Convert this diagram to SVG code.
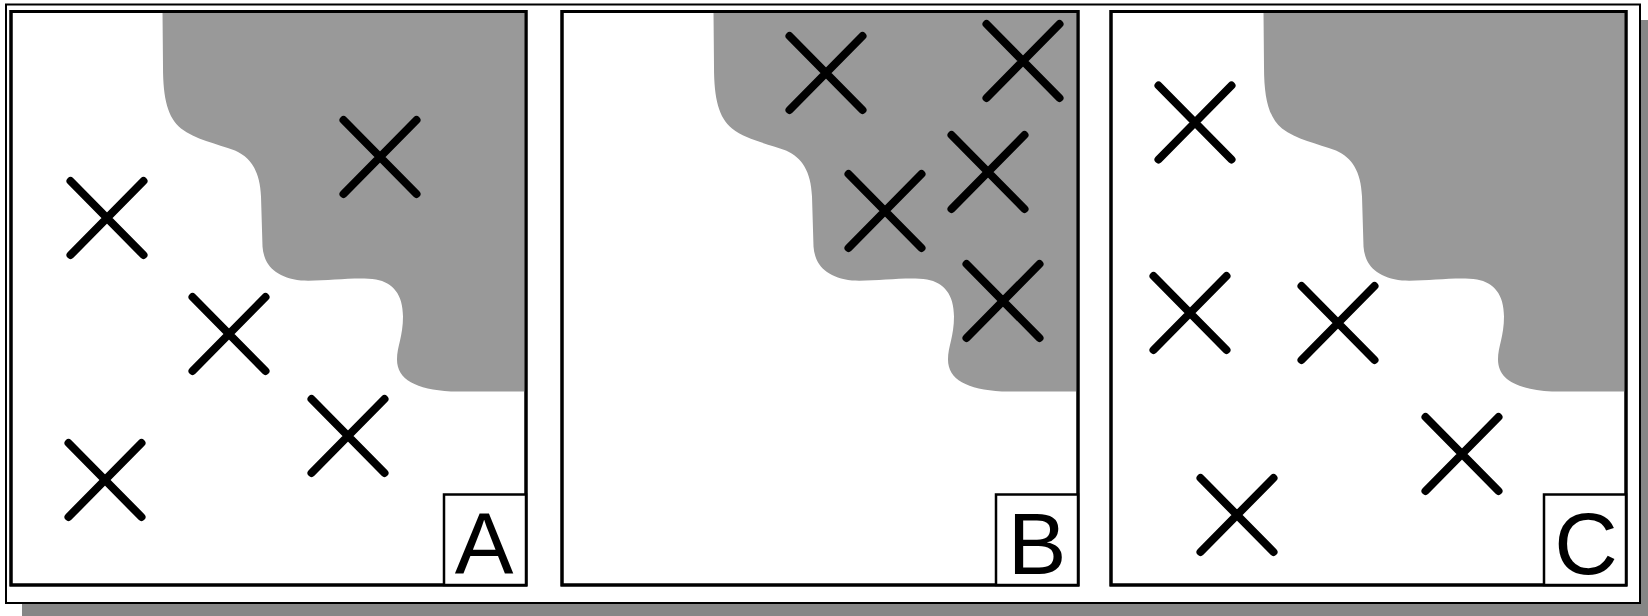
<svg xmlns="http://www.w3.org/2000/svg" xmlns:xlink="http://www.w3.org/1999/xlink" width="1648" height="616" viewBox="0 0 1648 616">
<style>
.panel{fill:#ffffff;stroke:#000;stroke-width:3}
.frame{fill:none;stroke:#000;stroke-width:3}
.region{fill:#999999;stroke:none}
.lbox{fill:#ffffff;stroke:#000;stroke-width:2.5}
.lbl{font-family:"Liberation Sans",Arial,sans-serif;font-size:88px;fill:#000;text-anchor:middle}
.x{fill:none;stroke:#000;stroke-width:8;stroke-linecap:round}
</style>
<defs>
<path id="cross" class="x" d="M-36.5,-37 L36.5,37 M-36.5,37 L36.5,-37"/>
<path id="blob" class="region" d="M151.5,0 L152,55 C152,88 157,106 170,117 C184,128 205,132 224,139 C240,146 249,160 250,185 L251.5,235 C253,255 266,266 290,269 C315,270 345,265 365,268 C382,271 392,283 392,305 C392,325 386,335 386,348 C386,368 405,378 440,380 L514,380 L514,0 Z"/>
</defs>
<rect x="22" y="20" width="1626" height="596" fill="#868686"/>
<rect x="6" y="4.5" width="1634" height="598.5" fill="#ffffff" stroke="#000" stroke-width="2"/>
<g id="panelA">
<rect class="panel" x="11" y="11.5" width="515" height="573.5"/>
<use xlink:href="#blob" transform="translate(11,11.5)"/>
<rect class="frame" x="11" y="11.5" width="515" height="573.5"/>
<use xlink:href="#cross" x="380" y="157"/>
<use xlink:href="#cross" x="107" y="218"/>
<use xlink:href="#cross" x="229" y="334"/>
<use xlink:href="#cross" x="348" y="436"/>
<use xlink:href="#cross" x="105" y="480"/>
<rect class="lbox" x="444" y="494.5" width="82" height="90.5"/>
<text class="lbl" x="484" y="574">A</text>
</g>
<g id="panelB">
<rect class="panel" x="562" y="11.5" width="516" height="573.5"/>
<use xlink:href="#blob" transform="translate(562,11.5)"/>
<rect class="frame" x="562" y="11.5" width="516" height="573.5"/>
<use xlink:href="#cross" x="826" y="73"/>
<use xlink:href="#cross" x="1023" y="61"/>
<use xlink:href="#cross" x="885" y="211"/>
<use xlink:href="#cross" x="988" y="172"/>
<use xlink:href="#cross" x="1003" y="301"/>
<rect class="lbox" x="996" y="494.5" width="82" height="90.5"/>
<text class="lbl" x="1037" y="574">B</text>
</g>
<g id="panelC">
<rect class="panel" x="1111" y="11.5" width="515" height="573.5"/>
<use xlink:href="#blob" transform="translate(1112,11.5)"/>
<rect class="frame" x="1111" y="11.5" width="515" height="573.5"/>
<use xlink:href="#cross" x="1195" y="122.5"/>
<use xlink:href="#cross" x="1190" y="313"/>
<use xlink:href="#cross" x="1338" y="323"/>
<use xlink:href="#cross" x="1462" y="454"/>
<use xlink:href="#cross" x="1237" y="515"/>
<rect class="lbox" x="1544" y="494.5" width="82" height="90.5"/>
<text class="lbl" x="1586" y="574">C</text>
</g>
<g id="connectors"/>
</svg>
